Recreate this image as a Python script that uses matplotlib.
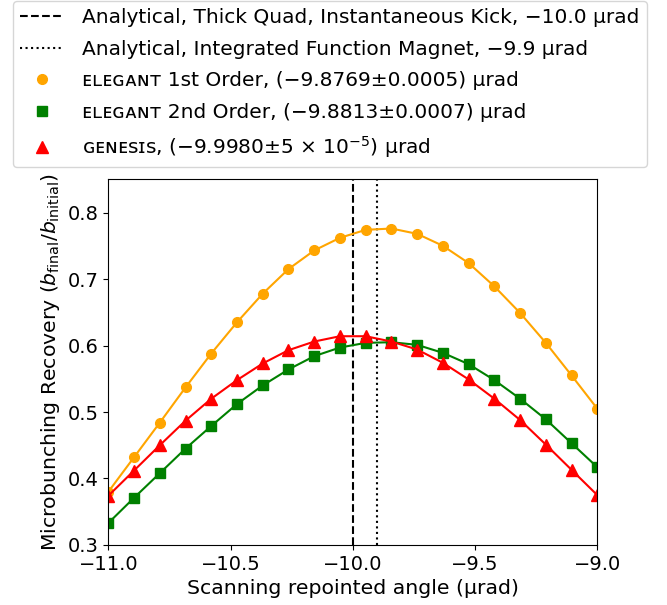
import numpy as np
import matplotlib
matplotlib.use("Agg")
import matplotlib.pyplot as plt

# scanned repointing angles (urad), 20 evenly spaced samples
angle = np.linspace(-11.0, -9.0, 20)

# microbunching recovery b_final / b_initial
elegant_1st = [0.380, 0.432, 0.484, 0.537, 0.588, 0.635, 0.678, 0.715, 0.743, 0.762,
               0.774, 0.776, 0.768, 0.750, 0.724, 0.689, 0.649, 0.604, 0.555, 0.505]
elegant_2nd = [0.333, 0.371, 0.408, 0.445, 0.479, 0.512, 0.540, 0.564, 0.584, 0.597,
               0.604, 0.605, 0.601, 0.589, 0.572, 0.548, 0.520, 0.489, 0.453, 0.417]
genesis = [0.374, 0.412, 0.450, 0.487, 0.520, 0.548, 0.573, 0.593, 0.606, 0.614,
           0.614, 0.606, 0.594, 0.574, 0.549, 0.520, 0.488, 0.451, 0.413, 0.375]

# analytical optimum angles (urad)
thick_quad = -10.0
integrated = -9.9

labels = [
    "Analytical, Thick Quad, Instantaneous Kick, \u221210.0 \u03bcrad",
    "Analytical, Integrated Function Magnet, \u22129.9 \u03bcrad",
    "\u1d07\u029f\u1d07\u0262\u1d00\u0274\u1d1b 1st Order, (\u22129.8769\u00b10.0005) \u03bcrad",
    "\u1d07\u029f\u1d07\u0262\u1d00\u0274\u1d1b 2nd Order, (\u22129.8813\u00b10.0007) \u03bcrad",
    "\u0262\u1d07\u0274\u1d07\ua731\u026a\ua731, (\u22129.9980\u00b15 $\\times$ 10$^{-5}$) \u03bcrad",
]

TICK_FS = 14
LABEL_FS = 14.7
LEG_FS = 14.5

fig = plt.figure(figsize=(6.67, 6.05), dpi=100)
ax = fig.add_axes([0.1624, 0.0992, 0.7331, 0.6044])

h1 = ax.axvline(thick_quad, color="black", ls="--", lw=1.5)
h2 = ax.axvline(integrated, color="black", ls=":", lw=1.5)

series = [(elegant_1st, "orange", "o", 7), (elegant_2nd, "green", "s", 7), (genesis, "red", "^", 8)]
handles = [h1, h2]
for y, c, m, ms in series:
    ax.plot(angle, y, color=c, lw=1.5)
    h, = ax.plot(angle, y, ls="none", marker=m, color=c, ms=ms)
    handles.append(h)

ax.set_xlim(-11.0, -9.0)
ax.set_ylim(0.3, 0.85)
ax.set_xticks([-11.0, -10.5, -10.0, -9.5, -9.0])
ax.set_yticks([0.3, 0.4, 0.5, 0.6, 0.7, 0.8])
ax.tick_params(labelsize=TICK_FS)
ax.set_xlabel("Scanning repointed angle (\u03bcrad)", fontsize=LABEL_FS)
ax.set_ylabel("Microbunching Recovery ($b_{\\rm final}/b_{\\rm initial}$)", fontsize=LABEL_FS)

fig.legend(handles, labels, loc="upper left", bbox_to_anchor=(0.019, 0.998),
           borderaxespad=0, borderpad=0.35, labelspacing=0.62, fontsize=LEG_FS,
           handlelength=2.2, handletextpad=0.9)

fig.savefig("out.png", dpi=100)
